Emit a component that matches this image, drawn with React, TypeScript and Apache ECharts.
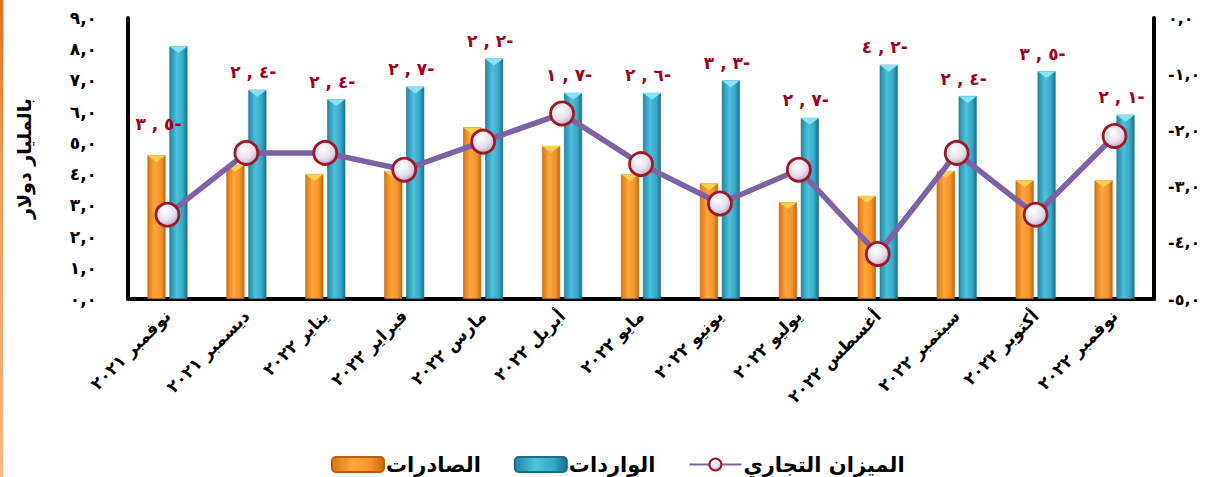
import React, { useEffect, useRef } from "react";
import * as echarts from "echarts";

const categories = [
  "نوفمبر ٢٠٢١",
  "ديسمبر ٢٠٢١",
  "يناير ٢٠٢٢",
  "فبراير ٢٠٢٢",
  "مارس ٢٠٢٢",
  "أبريل ٢٠٢٢",
  "مايو ٢٠٢٢",
  "يونيو ٢٠٢٢",
  "يوليو ٢٠٢٢",
  "أغسطس ٢٠٢٢",
  "سبتمبر ٢٠٢٢",
  "أكتوبر ٢٠٢٢",
  "نوفمبر ٢٠٢٢",
];
const exportsValues = [4.6, 4.3, 4.0, 4.1, 5.5, 4.9, 4.0, 3.7, 3.1, 3.3, 4.1, 3.8, 3.8];
const importsValues = [8.1, 6.7, 6.4, 6.8, 7.7, 6.6, 6.6, 7.0, 5.8, 7.5, 6.5, 7.3, 5.9];
const balanceValues = [-3.5, -2.4, -2.4, -2.7, -2.2, -1.7, -2.6, -3.3, -2.7, -4.2, -2.4, -3.5, -2.1];

const seriesNames = ["الصادرات", "الواردات", "الميزان التجاري"];
const yAxisName = "بالمليار دولار";
const leftAxis = { min: 0, max: 9, interval: 1 };
const rightAxis = { min: -5, max: 0, interval: 1 };

const AR_DIGITS = "٠١٢٣٤٥٦٧٨٩";
const toAr = (s: string) => s.replace(/[0-9]/g, (d) => AR_DIGITS[+d]);
const fmtAxis = (v: number) => {
  const s = toAr(Math.abs(v).toFixed(1)).replace(".", ",");
  return v < 0 ? "-" + s : s;
};
const fmtBalance = (v: number) => {
  const [a, b] = Math.abs(v).toFixed(1).split(".");
  return `${toAr(a)}\u200E , ${toAr(b)}${v < 0 ? "-" : ""}`;
};

const FONT = "'DejaVu Sans', 'Liberation Sans', sans-serif";

export default function App() {
  const ref = useRef<HTMLDivElement>(null);

  useEffect(() => {
    if (!ref.current) return;
    const chart = echarts.init(ref.current, undefined, { renderer: "svg" });

    const orange = new echarts.graphic.LinearGradient(0, 0, 1, 0, [
      { offset: 0, color: "#D9780F" },
      { offset: 0.4, color: "#FFA63C" },
      { offset: 0.75, color: "#F7932B" },
      { offset: 1, color: "#C4680C" },
    ]);
    const blue = new echarts.graphic.LinearGradient(0, 0, 1, 0, [
      { offset: 0, color: "#2588A4" },
      { offset: 0.4, color: "#4BC2DD" },
      { offset: 0.75, color: "#35A8C5" },
      { offset: 1, color: "#1A718B" },
    ]);
    const marker = new echarts.graphic.RadialGradient(0.4, 0.35, 0.75, [
      { offset: 0, color: "#FFFFFF" },
      { offset: 0.55, color: "#E6DEEC" },
      { offset: 1, color: "#A898B6" },
    ]);
    const frame = new echarts.graphic.LinearGradient(0, 0, 0, 1, [
      { offset: 0, color: "#E3680A" },
      { offset: 0.3, color: "#EC9A5A" },
      { offset: 1, color: "#F0C39C" },
    ]);

    const barWidth = 18;
    const barGap = "22%";

    chart.setOption({
      animation: false,
      textStyle: { fontFamily: FONT },
      graphic: [
        {
          type: "rect",
          shape: { x: 1.5, y: -24, width: 1400, height: 600, r: 22 },
          style: { fill: "none", stroke: frame, lineWidth: 3.5 },
          silent: true,
        },
      ],
      grid: { left: 128, right: 62, top: 18, bottom: 178, containLabel: false },
      legend: {
        data: seriesNames,
        left: 326,
        top: 449,
        itemWidth: 52,
        itemHeight: 15,
        itemGap: 33,
        textStyle: {
          fontSize: 21,
          fontWeight: "bold",
          color: "#000",
          fontFamily: FONT,
          padding: [0, 0, 0, -3],
        },
      },
      xAxis: {
        type: "category",
        data: categories,
        boundaryGap: true,
        axisLine: { show: true, lineStyle: { color: "#000", width: 4 } },
        axisTick: { show: false },
        axisLabel: {
          interval: 0,
          rotate: 45,
          margin: 14,
          fontSize: 17,
          fontWeight: "bold",
          color: "#000",
          fontFamily: FONT,
        },
        splitLine: { show: false },
      },
      yAxis: [
        {
          type: "value",
          ...leftAxis,
          name: yAxisName,
          nameLocation: "middle",
          nameRotate: 90,
          nameGap: 95,
          nameTextStyle: { fontSize: 19, fontWeight: "bold", color: "#000", fontFamily: FONT },
          axisLine: { show: true, lineStyle: { color: "#000", width: 4 } },
          axisTick: { show: false },
          splitLine: { show: false },
          axisLabel: {
            formatter: (v: number) => fmtAxis(v),
            margin: 31,
            fontSize: 17,
            fontWeight: "bold",
            color: "#000",
            fontFamily: FONT,
          },
        },
        {
          type: "value",
          ...rightAxis,
          position: "right",
          axisLine: { show: true, lineStyle: { color: "#000", width: 4 } },
          axisTick: { show: false },
          splitLine: { show: false },
          axisLabel: {
            formatter: (v: number) => fmtAxis(v),
            margin: 14,
            fontSize: 16,
            fontWeight: "bold",
            color: "#000",
            fontFamily: FONT,
          },
        },
      ],
      series: [
        {
          name: seriesNames[0],
          type: "bar",
          data: exportsValues,
          barWidth,
          barGap,
          itemStyle: { color: orange, borderColor: "#B8600C", borderWidth: 0.6 },
          z: 2,
        },
        {
          name: seriesNames[1],
          type: "bar",
          data: importsValues.map((v, i) =>
            i === 0
              ? {
                  value: v,
                  label: {
                    position: ["-61%", "31%"],
                    align: "center",
                    verticalAlign: "middle",
                    offset: [0, 0],
                  },
                }
              : v
          ),
          barWidth,
          barGap,
          itemStyle: { color: blue, borderColor: "#1A6F88", borderWidth: 0.6 },
          label: {
            show: true,
            position: "top",
            distance: 9,
            offset: [-4, 0],
            formatter: (p: any) => fmtBalance(balanceValues[p.dataIndex]),
            color: "#A50021",
            fontSize: 17,
            fontWeight: "bold",
            fontFamily: FONT,
          },
          z: 2,
        },
        {
          name: "exportsTop",
          type: "pictorialBar",
          data: exportsValues,
          barWidth,
          barGap,
          symbol: "triangle",
          symbolRotate: 180,
          symbolSize: [barWidth, 7],
          symbolPosition: "end",
          itemStyle: { color: "#FFD04A" },
          silent: true,
          z: 3,
        },
        {
          name: "importsTop",
          type: "pictorialBar",
          data: importsValues,
          barWidth,
          barGap,
          symbol: "triangle",
          symbolRotate: 180,
          symbolSize: [barWidth, 7],
          symbolPosition: "end",
          itemStyle: { color: "#86E4F4" },
          silent: true,
          z: 3,
        },
        {
          name: seriesNames[2],
          type: "line",
          yAxisIndex: 1,
          data: balanceValues,
          symbol: "circle",
          symbolSize: 23,
          lineStyle: { color: "#7D62A6", width: 5.5 },
          itemStyle: { color: marker, borderColor: "#A3172B", borderWidth: 2.8 },
          z: 5,
        },
      ],
    });

    return () => chart.dispose();
  }, []);

  return (
    <div
      ref={ref}
      style={{ position: "fixed", left: 0, top: 0, width: 1216, height: 477, background: "#fff" }}
    />
  );
}
